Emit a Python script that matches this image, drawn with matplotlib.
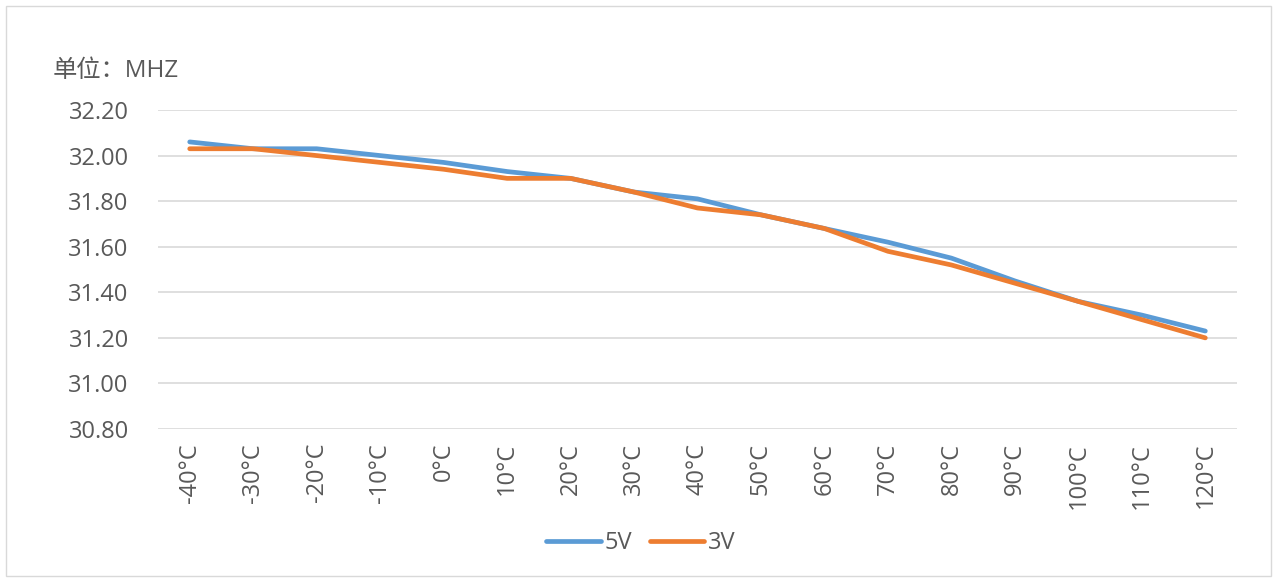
#!/usr/bin/env python3
import numpy as np
import matplotlib.pyplot as plt
from matplotlib.patches import Rectangle

plt.rcParams["font.family"] = ["Open Sans", "Noto Sans CJK SC", "DejaVu Sans"]

temps = ["-40°C", "-30°C", "-20°C", "-10°C", "0°C", "10°C", "20°C", "30°C",
         "40°C", "50°C", "60°C", "70°C", "80°C", "90°C", "100°C", "110°C", "120°C"]
v5 = [32.06, 32.03, 32.03, 32.00, 31.97, 31.93, 31.90, 31.84,
      31.81, 31.74, 31.68, 31.62, 31.55, 31.45, 31.36, 31.30, 31.23]
v3 = [32.03, 32.03, 32.00, 31.97, 31.94, 31.90, 31.90, 31.84,
      31.77, 31.74, 31.68, 31.58, 31.52, 31.44, 31.36, 31.28, 31.20]
yticks = [30.80, 31.00, 31.20, 31.40, 31.60, 31.80, 32.00, 32.20]

text_color = "#595959"
grid_color = "#d9d9d9"
fs = 17

fig = plt.figure(figsize=(12.74, 5.79), dpi=100)
ax = fig.add_axes([0.124, 0.259, 0.847, 0.551])

x = np.arange(len(temps))
ax.plot(x, v5, color="#5B9BD5", lw=3.4, solid_capstyle="round", label="5V")
ax.plot(x, v3, color="#ED7D31", lw=3.4, solid_capstyle="round", label="3V")

ax.set_xlim(-0.5, len(temps) - 0.5)
ax.set_ylim(30.8, 32.2)
ax.set_yticks(yticks)
ax.set_yticklabels([f"{v:.2f}" for v in yticks], fontsize=fs, color=text_color)
ax.set_xticks(x)
ax.set_xticklabels(temps, rotation=90, fontsize=fs, color=text_color)
ax.tick_params(length=0)
ax.tick_params(axis="x", pad=10)
ax.tick_params(axis="y", pad=21)
ax.grid(axis="y", color=grid_color, lw=1.2)
ax.set_axisbelow(True)
for s in ax.spines.values():
    s.set_visible(False)

fig.text(0.041, 0.878, "单位：MHZ", fontsize=17.5, color=text_color, va="center")

ax.legend(loc="center", bbox_to_anchor=(0.503, 0.062), bbox_transform=fig.transFigure,
          ncol=2, frameon=False, fontsize=fs, labelcolor=text_color,
          handlelength=2.3, handletextpad=0.15, columnspacing=0.75)

fig.patches.append(Rectangle((0.005, 0.005), 0.993, 0.985, transform=fig.transFigure,
                             fill=False, edgecolor="#d9d9d9", lw=1))

plt.savefig("out.png")
plt.close()
